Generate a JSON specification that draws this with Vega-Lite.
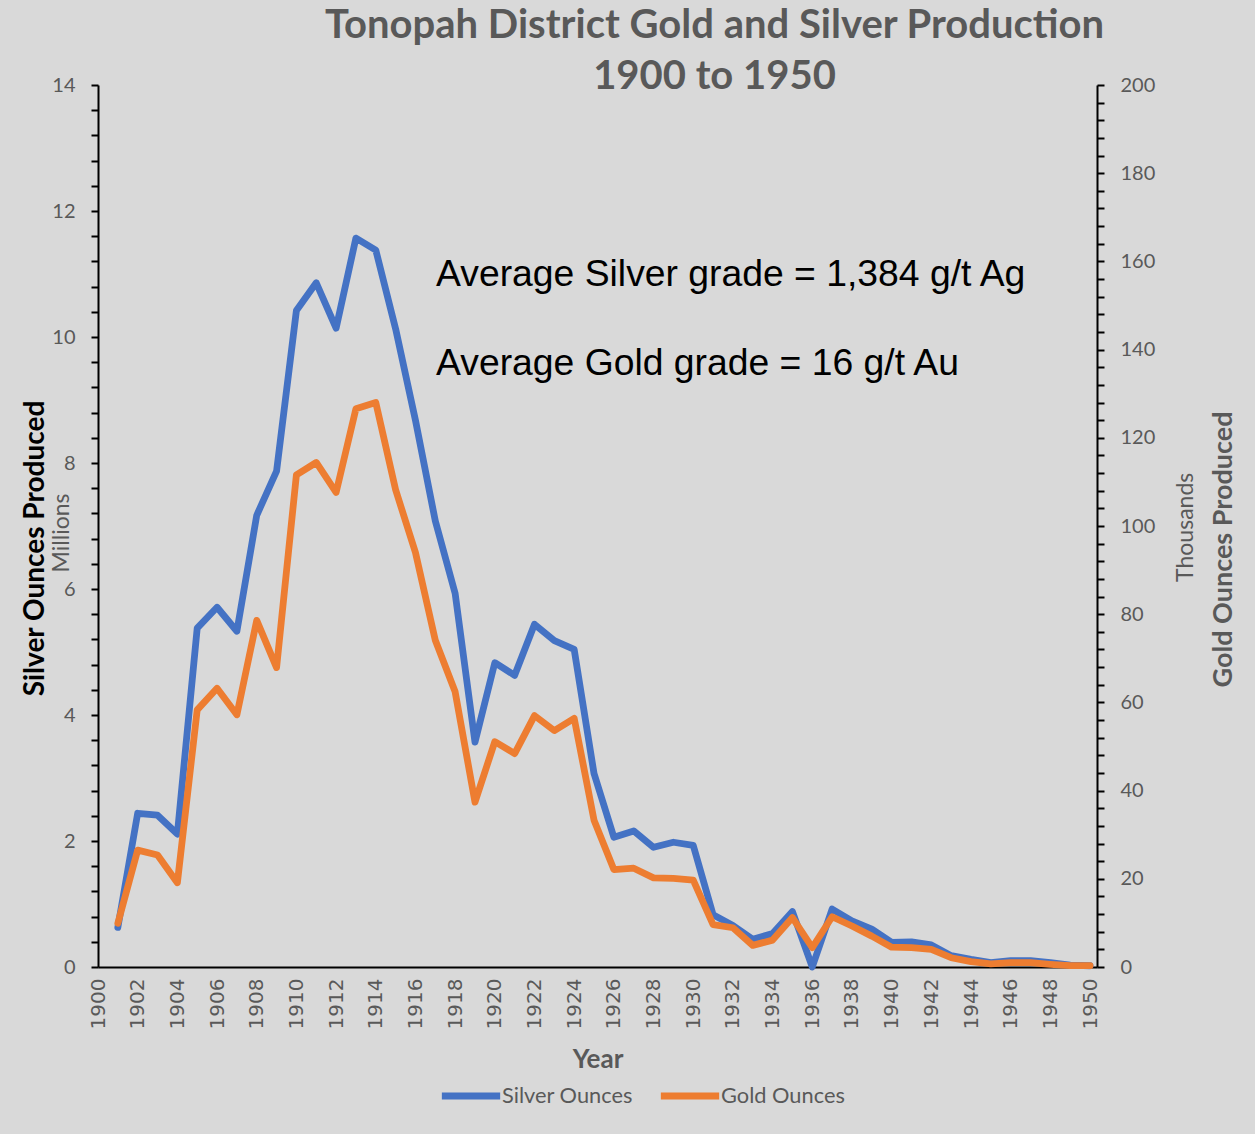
{
  "$schema": "https://vega.github.io/schema/vega-lite/v6.json",
  "width": 999,
  "height": 882,
  "autosize": {"type": "none"},
  "padding": {"left": 98, "top": 85, "right": 158, "bottom": 167},
  "background": "#d9d9d9",
  "config": {"view": {"stroke": null}, "font": "Lato", "axis": {"labelOverlap": false, "labelBound": false, "grid": false}},
  "title": {
    "text": ["Tonopah District Gold and Silver Production", "1900 to 1950"],
    "font": "Lato",
    "fontSize": 40,
    "fontWeight": "bold",
    "color": "#595959",
    "anchor": "middle",
    "frame": "group",
    "dx": 117,
    "dy": 22,
    "lineHeight": 51,
    "offset": 0
  },
  "datasets": {
    "silver": [
      {"year": 1901, "series": "Silver Ounces", "value": 0.63},
      {"year": 1902, "series": "Silver Ounces", "value": 2.44},
      {"year": 1903, "series": "Silver Ounces", "value": 2.41},
      {"year": 1904, "series": "Silver Ounces", "value": 2.11},
      {"year": 1905, "series": "Silver Ounces", "value": 5.38},
      {"year": 1906, "series": "Silver Ounces", "value": 5.71},
      {"year": 1907, "series": "Silver Ounces", "value": 5.33},
      {"year": 1908, "series": "Silver Ounces", "value": 7.17},
      {"year": 1909, "series": "Silver Ounces", "value": 7.87},
      {"year": 1910, "series": "Silver Ounces", "value": 10.42},
      {"year": 1911, "series": "Silver Ounces", "value": 10.86},
      {"year": 1912, "series": "Silver Ounces", "value": 10.14},
      {"year": 1913, "series": "Silver Ounces", "value": 11.57},
      {"year": 1914, "series": "Silver Ounces", "value": 11.38},
      {"year": 1915, "series": "Silver Ounces", "value": 10.13},
      {"year": 1916, "series": "Silver Ounces", "value": 8.68},
      {"year": 1917, "series": "Silver Ounces", "value": 7.08},
      {"year": 1918, "series": "Silver Ounces", "value": 5.93},
      {"year": 1919, "series": "Silver Ounces", "value": 3.57},
      {"year": 1920, "series": "Silver Ounces", "value": 4.83},
      {"year": 1921, "series": "Silver Ounces", "value": 4.63},
      {"year": 1922, "series": "Silver Ounces", "value": 5.44},
      {"year": 1923, "series": "Silver Ounces", "value": 5.18},
      {"year": 1924, "series": "Silver Ounces", "value": 5.04},
      {"year": 1925, "series": "Silver Ounces", "value": 3.07},
      {"year": 1926, "series": "Silver Ounces", "value": 2.06},
      {"year": 1927, "series": "Silver Ounces", "value": 2.16},
      {"year": 1928, "series": "Silver Ounces", "value": 1.90},
      {"year": 1929, "series": "Silver Ounces", "value": 1.98},
      {"year": 1930, "series": "Silver Ounces", "value": 1.93},
      {"year": 1931, "series": "Silver Ounces", "value": 0.83},
      {"year": 1932, "series": "Silver Ounces", "value": 0.66},
      {"year": 1933, "series": "Silver Ounces", "value": 0.44},
      {"year": 1934, "series": "Silver Ounces", "value": 0.53},
      {"year": 1935, "series": "Silver Ounces", "value": 0.88},
      {"year": 1936, "series": "Silver Ounces", "value": 0.0},
      {"year": 1937, "series": "Silver Ounces", "value": 0.92},
      {"year": 1938, "series": "Silver Ounces", "value": 0.73},
      {"year": 1939, "series": "Silver Ounces", "value": 0.60},
      {"year": 1940, "series": "Silver Ounces", "value": 0.39},
      {"year": 1941, "series": "Silver Ounces", "value": 0.40},
      {"year": 1942, "series": "Silver Ounces", "value": 0.35},
      {"year": 1943, "series": "Silver Ounces", "value": 0.18},
      {"year": 1944, "series": "Silver Ounces", "value": 0.12},
      {"year": 1945, "series": "Silver Ounces", "value": 0.07},
      {"year": 1946, "series": "Silver Ounces", "value": 0.10},
      {"year": 1947, "series": "Silver Ounces", "value": 0.10},
      {"year": 1948, "series": "Silver Ounces", "value": 0.07},
      {"year": 1949, "series": "Silver Ounces", "value": 0.03},
      {"year": 1950, "series": "Silver Ounces", "value": 0.02}
    ],
    "gold": [
      {"year": 1901, "series": "Gold Ounces", "value": 9.9},
      {"year": 1902, "series": "Gold Ounces", "value": 26.5},
      {"year": 1903, "series": "Gold Ounces", "value": 25.4},
      {"year": 1904, "series": "Gold Ounces", "value": 19.1},
      {"year": 1905, "series": "Gold Ounces", "value": 58.3},
      {"year": 1906, "series": "Gold Ounces", "value": 63.2},
      {"year": 1907, "series": "Gold Ounces", "value": 57.2},
      {"year": 1908, "series": "Gold Ounces", "value": 78.6},
      {"year": 1909, "series": "Gold Ounces", "value": 67.9},
      {"year": 1910, "series": "Gold Ounces", "value": 111.6},
      {"year": 1911, "series": "Gold Ounces", "value": 114.4},
      {"year": 1912, "series": "Gold Ounces", "value": 107.6},
      {"year": 1913, "series": "Gold Ounces", "value": 126.6},
      {"year": 1914, "series": "Gold Ounces", "value": 128.0},
      {"year": 1915, "series": "Gold Ounces", "value": 108.2},
      {"year": 1916, "series": "Gold Ounces", "value": 94.0},
      {"year": 1917, "series": "Gold Ounces", "value": 74.1},
      {"year": 1918, "series": "Gold Ounces", "value": 62.4},
      {"year": 1919, "series": "Gold Ounces", "value": 37.4},
      {"year": 1920, "series": "Gold Ounces", "value": 51.1},
      {"year": 1921, "series": "Gold Ounces", "value": 48.4},
      {"year": 1922, "series": "Gold Ounces", "value": 57.0},
      {"year": 1923, "series": "Gold Ounces", "value": 53.6},
      {"year": 1924, "series": "Gold Ounces", "value": 56.4},
      {"year": 1925, "series": "Gold Ounces", "value": 33.3},
      {"year": 1926, "series": "Gold Ounces", "value": 22.1},
      {"year": 1927, "series": "Gold Ounces", "value": 22.4},
      {"year": 1928, "series": "Gold Ounces", "value": 20.2},
      {"year": 1929, "series": "Gold Ounces", "value": 20.1},
      {"year": 1930, "series": "Gold Ounces", "value": 19.7},
      {"year": 1931, "series": "Gold Ounces", "value": 9.6},
      {"year": 1932, "series": "Gold Ounces", "value": 8.9},
      {"year": 1933, "series": "Gold Ounces", "value": 4.9},
      {"year": 1934, "series": "Gold Ounces", "value": 6.1},
      {"year": 1935, "series": "Gold Ounces", "value": 11.2},
      {"year": 1936, "series": "Gold Ounces", "value": 4.4},
      {"year": 1937, "series": "Gold Ounces", "value": 11.4},
      {"year": 1938, "series": "Gold Ounces", "value": 9.3},
      {"year": 1939, "series": "Gold Ounces", "value": 7.0},
      {"year": 1940, "series": "Gold Ounces", "value": 4.5},
      {"year": 1941, "series": "Gold Ounces", "value": 4.4},
      {"year": 1942, "series": "Gold Ounces", "value": 4.0},
      {"year": 1943, "series": "Gold Ounces", "value": 2.1},
      {"year": 1944, "series": "Gold Ounces", "value": 1.2},
      {"year": 1945, "series": "Gold Ounces", "value": 0.7},
      {"year": 1946, "series": "Gold Ounces", "value": 1.0},
      {"year": 1947, "series": "Gold Ounces", "value": 1.0},
      {"year": 1948, "series": "Gold Ounces", "value": 0.6},
      {"year": 1949, "series": "Gold Ounces", "value": 0.3},
      {"year": 1950, "series": "Gold Ounces", "value": 0.3}
    ]
  },
  "layer": [
    {
      "layer": [
        {
          "data": {"name": "silver"},
          "mark": {"type": "line", "strokeWidth": 6.8, "strokeJoin": "round", "strokeCap": "round"},
          "encoding": {
            "x": {
              "field": "year", "type": "quantitative",
              "scale": {"domain": [1900, 1950.35], "nice": false, "zero": false},
              "axis": {
                "values": [1900,1902,1904,1906,1908,1910,1912,1914,1916,1918,1920,1922,1924,1926,1928,1930,1932,1934,1936,1938,1940,1942,1944,1946,1948,1950],
                "tickCount": 200,
                "format": "d", "labelAngle": 270, "labelFont": "DejaVu Sans", "labelFontSize": 20, "labelColor": "#595959", "labelPadding": 11,
                "ticks": false, "tickSize": 0, "domainColor": "#000000", "domainWidth": 2,
                "title": "Year", "titleFont": "Lato", "titleFontSize": 26, "titleFontWeight": "bold", "titleColor": "#595959", "titleY": 100, "titleBaseline": "alphabetic"
              }
            },
            "y": {
              "field": "value", "type": "quantitative",
              "scale": {"domain": [0, 14], "nice": false},
              "axis": {
                "values": [0,0.4,0.8,1.2,1.6,2,2.4,2.8,3.2,3.6,4,4.4,4.8,5.2,5.6,6,6.4,6.8,7.2,7.6,8,8.4,8.8,9.2,9.6,10,10.4,10.8,11.2,11.6,12,12.4,12.8,13.2,13.6,14],
                "tickCount": 200,
                "labelExpr": "datum.value % 2 == 0 ? format(datum.value, 'd') : ''",
                "labelFont": "Lato", "labelFontSize": 20, "labelColor": "#595959", "labelPadding": 16,
                "tickSize": 7, "tickColor": "#000000", "tickWidth": 2, "domainColor": "#000000", "domainWidth": 2,
                "title": "Silver Ounces Produced", "titleFont": "Lato", "titleFontSize": 28, "titleFontWeight": "bold", "titleColor": "#000000",
                "titleAngle": 270, "titleX": -63, "titleY": 463, "titleAlign": "center", "titleBaseline": "middle",
                "encode": {"ticks": {"update": {"x": {"value": 7}, "x2": {"signal": "datum.value % 2 == 0 ? -7 : 0"}}}}
              }
            },
            "color": {
              "field": "series", "type": "nominal",
              "scale": {"domain": ["Silver Ounces", "Gold Ounces"], "range": ["#4472C4", "#ED7D31"]},
              "legend": {
                "orient": "none", "legendX": 340, "legendY": 978, "direction": "horizontal", "title": null,
                "symbolType": "stroke", "symbolSize": 3400, "symbolStrokeWidth": 7,
                "labelFont": "Lato", "labelFontSize": 21.8, "labelColor": "#595959", "labelOffset": -2, "columnPadding": 13
              }
            }
          }
        },
        {
          "data": {"values": [{"t": "Average Silver grade = 1,384 g/t Ag"}]},
          "mark": {"type": "text", "font": "Liberation Sans", "fontSize": 37.3, "color": "#000000", "align": "left", "baseline": "alphabetic"},
          "encoding": {
            "x": {"datum": 1917.04, "type": "quantitative"},
            "y": {"datum": 10.81, "type": "quantitative"},
            "text": {"field": "t"}
          }
        },
        {
          "data": {"values": [{"t": "Average Gold grade = 16 g/t Au"}]},
          "mark": {"type": "text", "font": "Liberation Sans", "fontSize": 37.3, "color": "#000000", "align": "left", "baseline": "alphabetic"},
          "encoding": {
            "x": {"datum": 1917.04, "type": "quantitative"},
            "y": {"datum": 9.40, "type": "quantitative"},
            "text": {"field": "t"}
          }
        },
        {
          "data": {"values": [{"t": "Millions"}]},
          "mark": {"type": "text", "font": "Lato", "fontSize": 23, "color": "#595959", "align": "center", "baseline": "middle", "angle": 270},
          "encoding": {
            "x": {"datum": 1898.18, "type": "quantitative"},
            "y": {"datum": 6.89, "type": "quantitative"},
            "text": {"field": "t"}
          }
        }
      ]
    },
    {
      "layer": [
        {
          "data": {"name": "gold"},
          "mark": {"type": "line", "strokeWidth": 6.8, "strokeJoin": "round", "strokeCap": "round"},
          "encoding": {
            "x": {"field": "year", "type": "quantitative"},
            "y": {
              "field": "value", "type": "quantitative",
              "scale": {"domain": [0, 200], "nice": false},
              "axis": {
                "orient": "right",
                "values": [0,4,8,12,16,20,24,28,32,36,40,44,48,52,56,60,64,68,72,76,80,84,88,92,96,100,104,108,112,116,120,124,128,132,136,140,144,148,152,156,160,164,168,172,176,180,184,188,192,196,200],
                "tickCount": 200,
                "labelExpr": "datum.value % 20 == 0 ? format(datum.value, 'd') : ''",
                "labelFont": "Lato", "labelFontSize": 20, "labelColor": "#595959", "labelPadding": 16,
                "tickSize": 7, "tickColor": "#000000", "tickWidth": 2, "domainColor": "#000000", "domainWidth": 2,
                "title": "Gold Ounces Produced", "titleFont": "Lato", "titleFontSize": 27, "titleFontWeight": "bold", "titleColor": "#595959",
                "titleAngle": 270, "titleX": 126, "titleY": 464, "titleAlign": "center", "titleBaseline": "middle",
                "encode": {"ticks": {"update": {"x": {"value": -7}, "x2": {"signal": "datum.value % 20 == 0 ? 7 : 0"}}}}
              }
            },
            "color": {"field": "series", "type": "nominal"}
          }
        },
        {
          "data": {"values": [{"t": "Thousands"}]},
          "mark": {"type": "text", "font": "Lato", "fontSize": 23, "color": "#595959", "align": "center", "baseline": "middle", "angle": 270},
          "encoding": {
            "x": {"datum": 1954.84, "type": "quantitative"},
            "y": {"datum": 99.7, "type": "quantitative"},
            "text": {"field": "t"}
          }
        }
      ]
    }
  ],
  "resolve": {"scale": {"y": "independent"}}
}
